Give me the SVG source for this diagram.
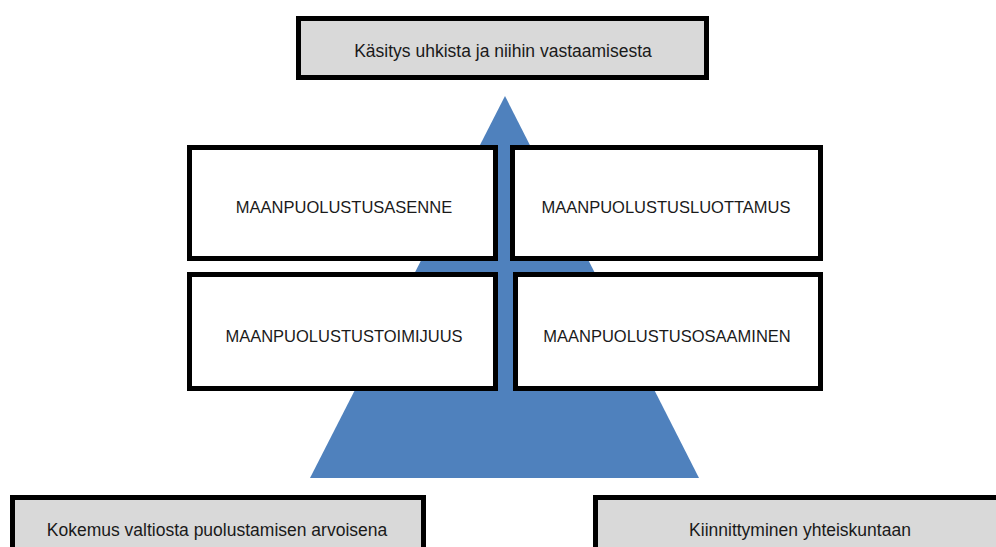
<svg xmlns="http://www.w3.org/2000/svg" width="996" height="547" viewBox="0 0 996 547">
<style>
.box{fill:#ffffff;stroke:#000000;stroke-width:5}
.gbox{fill:#d9d9d9;stroke:#000000;stroke-width:5}
.t{font-family:"Liberation Sans",Arial,sans-serif;font-size:17.5px;fill:#1a1a1a;text-anchor:middle}
.c{font-family:"Liberation Sans",Arial,sans-serif;font-size:16.5px;fill:#1a1a1a;text-anchor:middle}
</style>
<rect width="996" height="547" fill="#ffffff"/>
<g id="connectors">
<polygon id="pyramid" points="505,96 699,478 310,478" fill="#4f81bd"/>
</g>
<g id="top"><rect class="gbox" x="298.5" y="18.5" width="408" height="59"/><text class="t" x="503" y="57">Käsitys uhkista ja niihin vastaamisesta</text></g>
<g id="asenne"><rect class="box" x="189.5" y="147.5" width="306" height="111"/><text class="c" x="344" y="213">MAANPUOLUSTUSASENNE</text></g>
<g id="luottamus"><rect class="box" x="512.5" y="147.5" width="308" height="111"/><text class="c" x="666" y="213">MAANPUOLUSTUSLUOTTAMUS</text></g>
<g id="toimijuus"><rect class="box" x="189.5" y="274.5" width="306" height="114"/><text class="c" x="344" y="342">MAANPUOLUSTUSTOIMIJUUS</text></g>
<g id="osaaminen"><rect class="box" x="515.5" y="274.5" width="305" height="114"/><text class="c" x="667" y="342">MAANPUOLUSTUSOSAAMINEN</text></g>
<g id="kokemus"><rect class="gbox" x="12.5" y="497.5" width="411" height="60"/><text class="t" x="217" y="536">Kokemus valtiosta puolustamisen arvoisena</text></g>
<g id="kiinnittyminen"><rect class="gbox" x="595.5" y="497.5" width="420" height="60"/><text class="t" x="800" y="536">Kiinnittyminen yhteiskuntaan</text></g>
</svg>
